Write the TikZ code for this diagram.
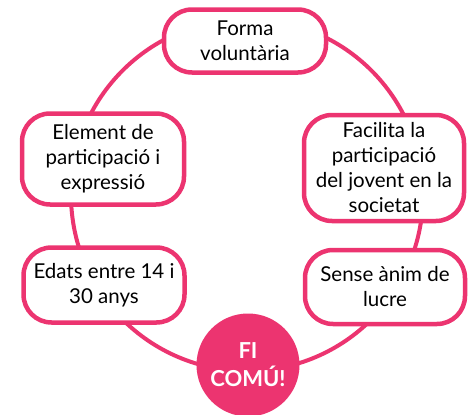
\documentclass[tikz,border=0pt]{standalone}
\usepackage{fontspec}
\setmainfont{Lato}
\definecolor{rosa}{HTML}{EC3470}
\tikzset{
  caixa/.style={draw=rosa, line width=4.5pt, fill=white, rounded corners=28pt,
    align=center, inner sep=0pt, font=\fontsize{20.5}{25}\selectfont},
  fi/.style={circle, fill=rosa, text=white, align=center, inner sep=0pt,
    minimum size=103pt, font=\fontsize{22}{28}\selectfont\bfseries},
}
\begin{document}
\begin{tikzpicture}[x=1pt, y=-1pt]
    \useasboundingbox (0,0) rectangle (475,415);
    %cercle
    \coordinate (centre) at (247,195);
    \draw[rosa, line width=4pt] (centre) circle[radius=176pt];
    %caixes
    \node[caixa, minimum width=162pt, minimum height=63pt] (forma) at (245,41) {Forma\\voluntària};
    \node[caixa, minimum width=162pt, minimum height=91pt] (element) at (103,159) {Element de\\participació i\\expressió};
    \node[caixa, minimum width=160pt, minimum height=106pt] (facilita) at (384,168) {Facilita la\\participació\\del jovent en la\\societat};
    \node[caixa, minimum width=161pt, minimum height=75pt] (edats) at (104,285) {Edats entre 14 i\\30 anys};
    \node[caixa, minimum width=160pt, minimum height=74pt] (lucre) at (385,287) {Sense ànim de\\lucre};
    %centre
    \node[fi] (comu) at (248,365) {FI\\COMÚ!};
\end{tikzpicture}
\end{document}
